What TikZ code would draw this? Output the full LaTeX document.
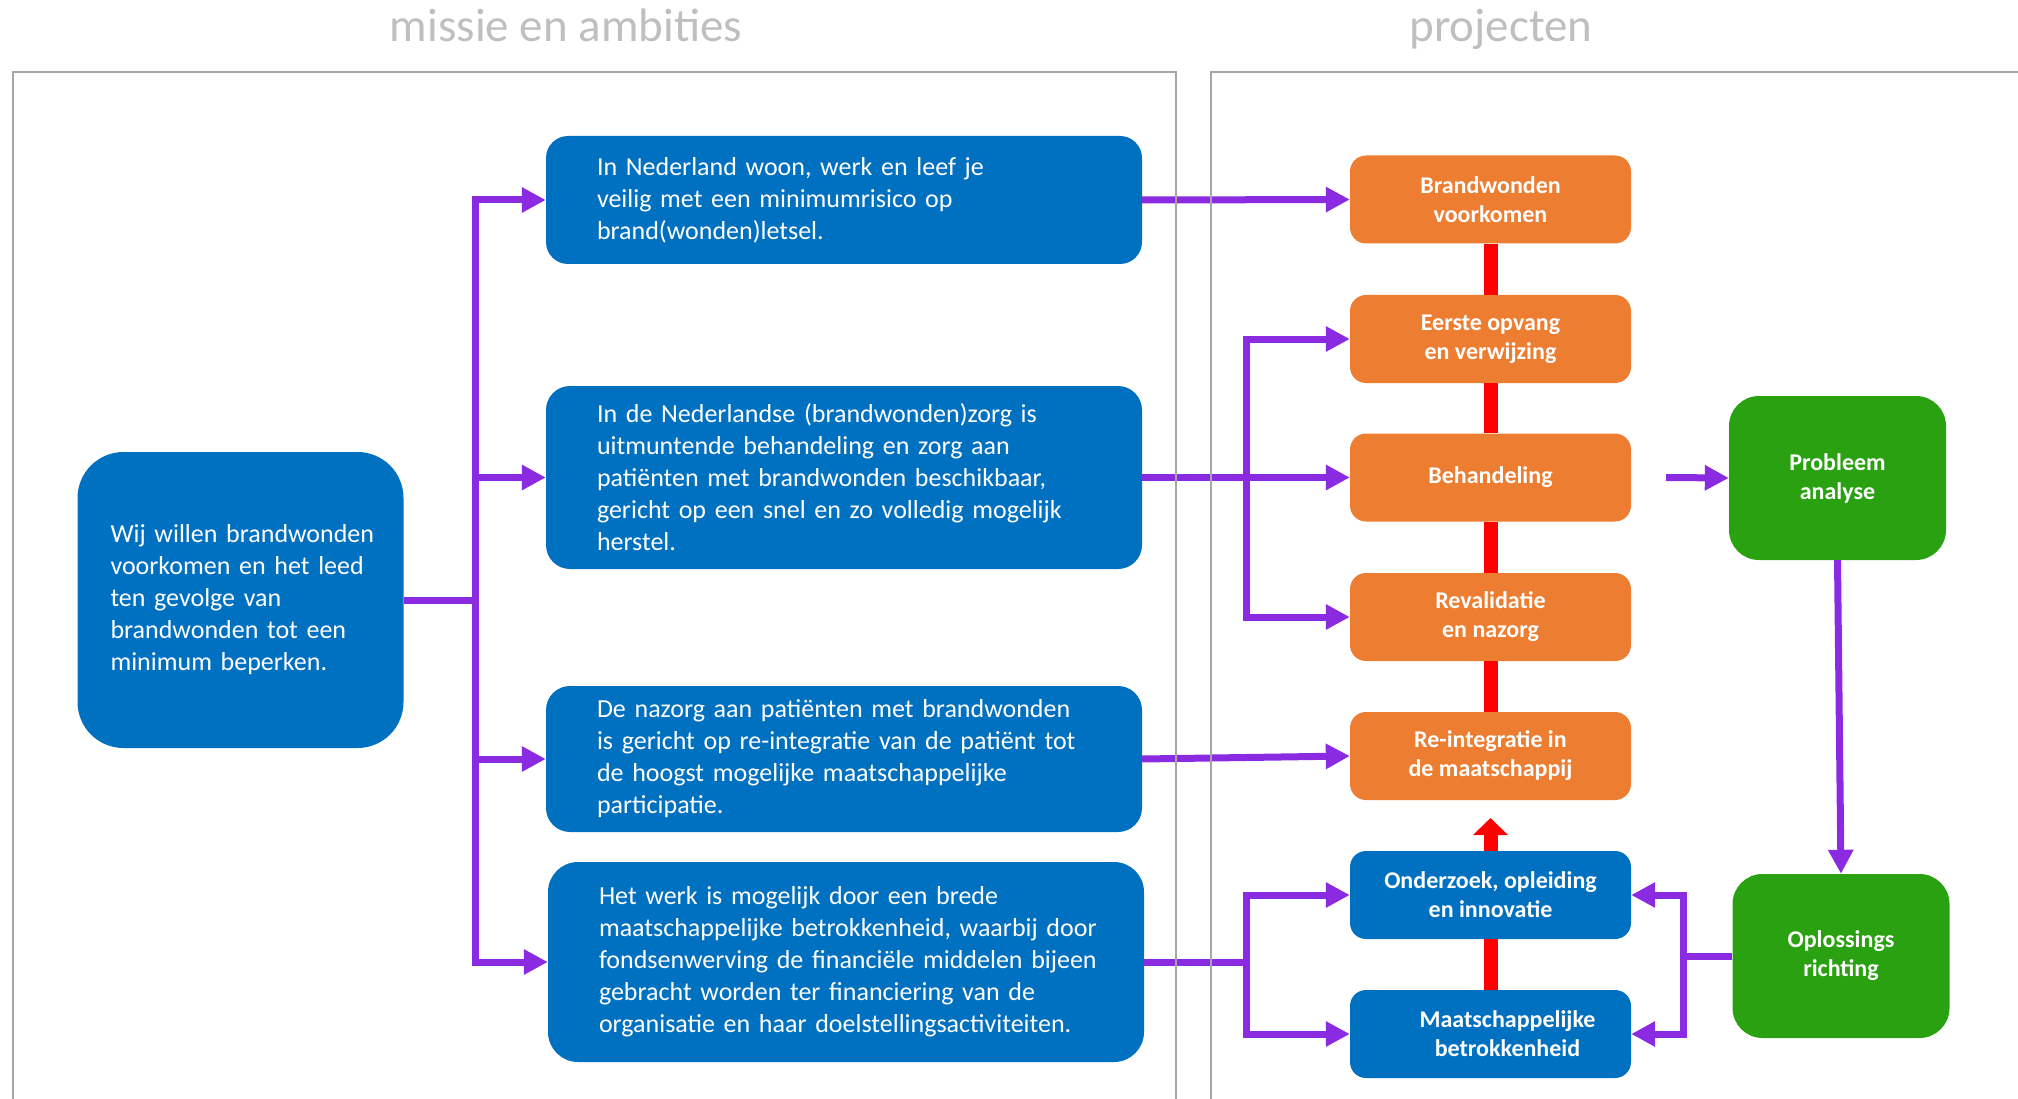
\documentclass[tikz,border=0pt]{standalone}
\usepackage{fontspec}
\setmainfont{Carlito}
\usetikzlibrary{arrows.meta}
\definecolor{boxblue}{HTML}{0070C0}
\definecolor{boxorange}{HTML}{ED7D31}
\definecolor{boxgreen}{HTML}{29A110}
\definecolor{flowpurple}{HTML}{8A2BE2}
\definecolor{linkred}{HTML}{FF0000}
\definecolor{panelgray}{HTML}{A6A6A6}
\definecolor{titlegray}{HTML}{BFBFBF}
\tikzset{
  goalbox/.style={rectangle, rounded corners=46pt, fill=boxblue, text=white, minimum width=326pt, minimum height=296pt, text width=326pt, inner xsep=0pt, align=left, font=\fontsize{26}{32}\selectfont, execute at begin node={\leftskip=33pt}},
  missionbox/.style={rectangle, fill=boxblue, text=white, minimum width=596pt, text width=596pt, inner xsep=0pt, align=left, font=\fontsize{26}{32}\selectfont, execute at begin node={\leftskip=51pt}},
  projbox/.style={rectangle, rounded corners=16pt, fill=boxorange, text=white, minimum width=281pt, minimum height=88pt, align=center, font=\fontsize{24}{29}\selectfont\bfseries},
  greenbox/.style={rectangle, rounded corners=30pt, fill=boxgreen, text=white, minimum width=217pt, minimum height=164pt, align=center, font=\fontsize{24}{29}\selectfont\bfseries},
  flow/.style={draw=flowpurple, line width=7pt},
  flowarrow/.style={flow, -{Triangle[length=24pt, width=24pt]}},
  redlink/.style={draw=linkred, line width=14pt},
  redarrow/.style={redlink, -{Triangle[length=17pt, width=34pt]}},
  panel/.style={draw=panelgray, line width=2.5pt},
  paneltitle/.style={text=titlegray, font=\fontsize{47}{56}\selectfont, anchor=base}
}
\begin{document}
\begin{tikzpicture}[x=1pt, y=-1pt]
  \useasboundingbox (0,0) rectangle (2018,1099);
  \clip (0,0) rectangle (2018,1099);

  % titles
  \node[paneltitle] (titleleft) at (566,42) {missie en ambities};
  \node[paneltitle] (titleright) at (1501,42) {projecten};

  % mission and ambitions
  \node[goalbox] (goal) at (240.5,600) {Wij willen brandwonden\\voorkomen en het leed\\ten gevolge van\\brandwonden tot een\\minimum beperken.};
  \node[missionbox, rounded corners=22pt, minimum height=128pt] (ambition1) at (844,200) {In Nederland woon, werk en leef je\\veilig met een minimumrisico op\\brand(wonden)letsel.};
  \node[missionbox, rounded corners=24pt, minimum height=183pt] (ambition2) at (844,477.5) {In de Nederlandse (brandwonden)zorg is\\uitmuntende behandeling en zorg aan\\patiënten met brandwonden beschikbaar,\\gericht op een snel en zo volledig mogelijk\\herstel.};
  \node[missionbox, rounded corners=24pt, minimum height=146pt] (ambition3) at (844,759) {De nazorg aan patiënten met brandwonden\\is gericht op re-integratie van de patiënt tot\\de hoogst mogelijke maatschappelijke\\participatie.};
  \node[missionbox, rounded corners=30pt, minimum height=200pt] (ambition4) at (846,962) {Het werk is mogelijk door een brede\\maatschappelijke betrokkenheid, waarbij door\\fondsenwerving de financiële middelen bijeen\\gebracht worden ter financiering van de\\organisatie en haar doelstellingsactiviteiten.};

  % projects
  \node[projbox] (prevent) at (1490.5,199.5) {Brandwonden\\voorkomen};
  \node[projbox] (firstaid) at (1490.5,339) {Eerste opvang\\en verwijzing};
  \node[projbox] (treatment) at (1490.5,477.5) {Behandeling};
  \node[projbox] (aftercare) at (1490.5,617) {Revalidatie\\en nazorg};
  \node[projbox] (reintegration) at (1490.5,756) {Re-integratie in\\de maatschappij};
  \node[projbox, fill=boxblue] (research) at (1490.5,895) {Onderzoek, opleiding\\en innovatie};
  \node[projbox, fill=boxblue] (society) at (1490.5,1034) {\hspace*{34pt}Maatschappelijke\\\hspace*{34pt}betrokkenheid};

  \node[greenbox] (problem) at (1837.5,478) {Probleem\\analyse};
  \node[greenbox] (solution) at (1841,956) {Oplossings\\richting};

  % junctions
  \coordinate (split) at (475,600);
  \coordinate (splittreat) at (1246,477.5);
  \coordinate (splitsoc) at (1246,962);
  \coordinate (splitsol) at (1683,956);
  \coordinate (probstart) at (1666,477.5);
  \coordinate (uptip) at (1490.5,818);

  % red chain
  \draw[redlink] (prevent.south) -- (firstaid.north);
  \draw[redlink] (firstaid.south) -- (treatment.north);
  \draw[redlink] (treatment.south) -- (aftercare.north);
  \draw[redlink] (aftercare.south) -- (reintegration.north);
  \draw[redlink] (research.south) -- (society.north);
  \draw[redarrow] (research.north) -- (uptip);

  % purple flows
  \draw[flow] (goal.east) -- (split);
  \draw[flowarrow] (split) |- (ambition1.west);
  \draw[flowarrow] (split) |- (ambition2.west);
  \draw[flowarrow] (split) |- (ambition3.west);
  \draw[flowarrow] (split) |- (ambition4.west);

  \draw[flowarrow] (ambition1.east) -- (prevent.west);
  \draw[flowarrow] (ambition2.east) -- (treatment.west);
  \draw[flowarrow] (splittreat) |- (firstaid.west);
  \draw[flowarrow] (splittreat) |- (aftercare.west);
  \draw[flowarrow] (ambition3.east) -- (reintegration.west);
  \draw[flow] (ambition4.east) -- (splitsoc);
  \draw[flowarrow] (splitsoc) |- (research.west);
  \draw[flowarrow] (splitsoc) |- (society.west);

  \draw[flowarrow] (probstart) -- (problem.west);
  \draw[flowarrow] (problem.south) -- (solution.north);
  \draw[flow] (solution.west) -- (splitsol);
  \draw[flowarrow] (splitsol) |- (research.east);
  \draw[flowarrow] (splitsol) |- (society.east);

  % panels
  \draw[panel] (13,1110) -- (13,72) -- (1176,72) -- (1176,1110);
  \draw[panel] (1211,1110) -- (1211,72) -- (2030,72);
\end{tikzpicture}
\end{document}
